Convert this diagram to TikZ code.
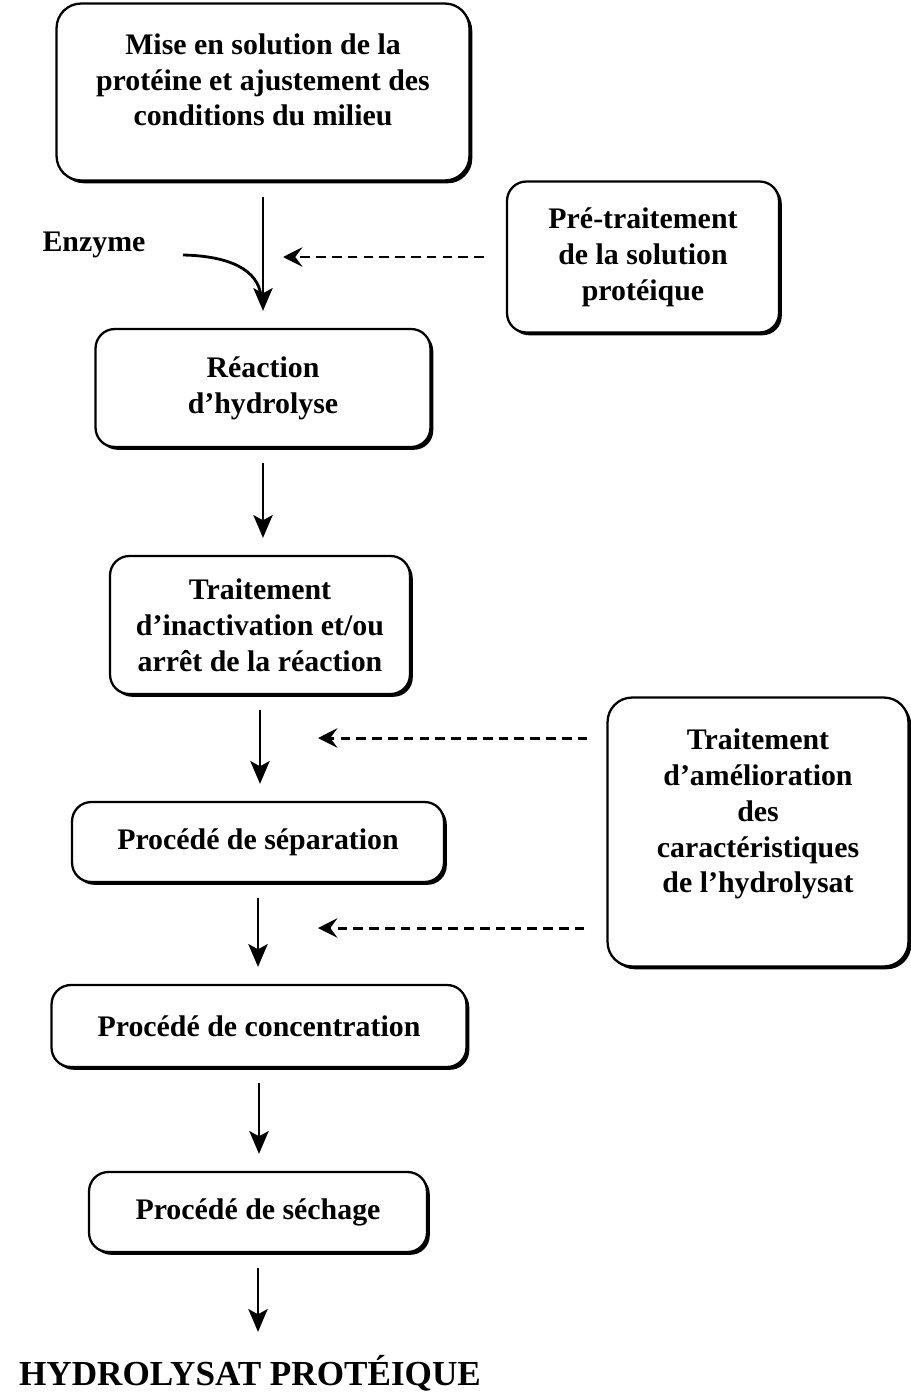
\documentclass[tikz,border=0pt]{standalone}
\usepackage{fontspec}
\setmainfont{Liberation Serif}
\usetikzlibrary{arrows.meta,shadows}

\begin{document}
\begin{tikzpicture}[
    x=0.02cm, y=-0.02cm,
    every node/.style={font=\fontsize{17}{20.4}\selectfont\bfseries},
    box/.style={draw, rounded corners=11pt, line width=1.3pt, fill=white,
                align=center, inner sep=0pt,
                drop shadow={shadow xshift=1.6pt, shadow yshift=-1.6pt,
                             fill=black, opacity=1}},
    arr/.style ={-{Stealth[length=13pt, width=11pt, inset=3pt]}, line width=1.2pt,
                 shorten <=0.3cm, shorten >=0.34cm},
    dsh/.style ={-{Stealth[length=11pt, width=11pt, inset=4pt]}, line width=1.7pt,
                 dash pattern=on 5.5pt off 3.5pt}
  ]
  \useasboundingbox (0,0) rectangle (910,1399);
  \node[box, rounded corners=14pt, minimum width=8.26cm, minimum height=3.54cm, text depth=14pt]
        (top) at (263,92) {Mise en solution de la\\prot\'eine et ajustement des\\conditions du milieu};
  \node[box, minimum width=5.44cm, minimum height=3.02cm]
        (pre) at (643,257) {Pr\'e-traitement\\de la solution\\prot\'eique};
  \node[box, minimum width=6.7cm, minimum height=2.36cm]
        (hyd) at (263,388) {R\'eaction\\d'hydrolyse};
  \node[box, minimum width=6.0cm, minimum height=2.76cm]
        (ina) at (260,625) {Traitement\\d'inactivation et/ou\\arr\^et de la r\'eaction};
  \node[box, rounded corners=14pt, minimum width=6.02cm, minimum height=5.38cm, text depth=24pt]
        (ame) at (758,832) {Traitement\\d'am\'elioration\\des\\caract\'eristiques\\de l'hydrolysat};
  \node[box, minimum width=7.44cm, minimum height=1.6cm]
        (sep) at (258,842) {Proc\'ed\'e de s\'eparation};
  \node[box, minimum width=8.3cm, minimum height=1.64cm]
        (con) at (259,1026) {Proc\'ed\'e de concentration};
  \node[box, minimum width=6.76cm, minimum height=1.6cm]
        (sec) at (258,1212) {Proc\'ed\'e de s\'echage};
  \node[font=\fontsize{20}{24}\selectfont\bfseries] (hp) at (250,1373) {HYDROLYSAT PROT\'EIQUE};
  \node (enz) at (94,245) {Enzyme};

  % main line
  \draw[arr] (top.south) -- (top.south |- hyd.north);
  \draw[arr] (hyd.south) -- (hyd.south |- ina.north);
  \draw[arr] (ina.south) -- (ina.south |- sep.north);
  \draw[arr] (sep.south) -- (sep.south |- con.north);
  \draw[arr] (con.south) -- (con.south |- sec.north);
  \draw[arr] (sec.south) -- (sec.south |- hp.north);

  % enzyme
  \coordinate (enzA) at (183,255);
  \coordinate (enzB) at (261,296);
  \draw[line width=1.6pt] (enzA) .. controls (230,256) and (258,270) .. (enzB);

  % side treatments
  \coordinate (preIn) at (283,257);
  \coordinate (ameA) at (318,738);
  \coordinate (ameB) at (318,928);
  \draw[dsh, shorten <=0.44cm] (pre.west) -- (preIn);
  \draw[dsh, shorten <=0.38cm] (ameA -| ame.west) -- (ameA);
  \draw[dsh, shorten <=0.44cm] (ameB -| ame.west) -- (ameB);
\end{tikzpicture}
\end{document}
